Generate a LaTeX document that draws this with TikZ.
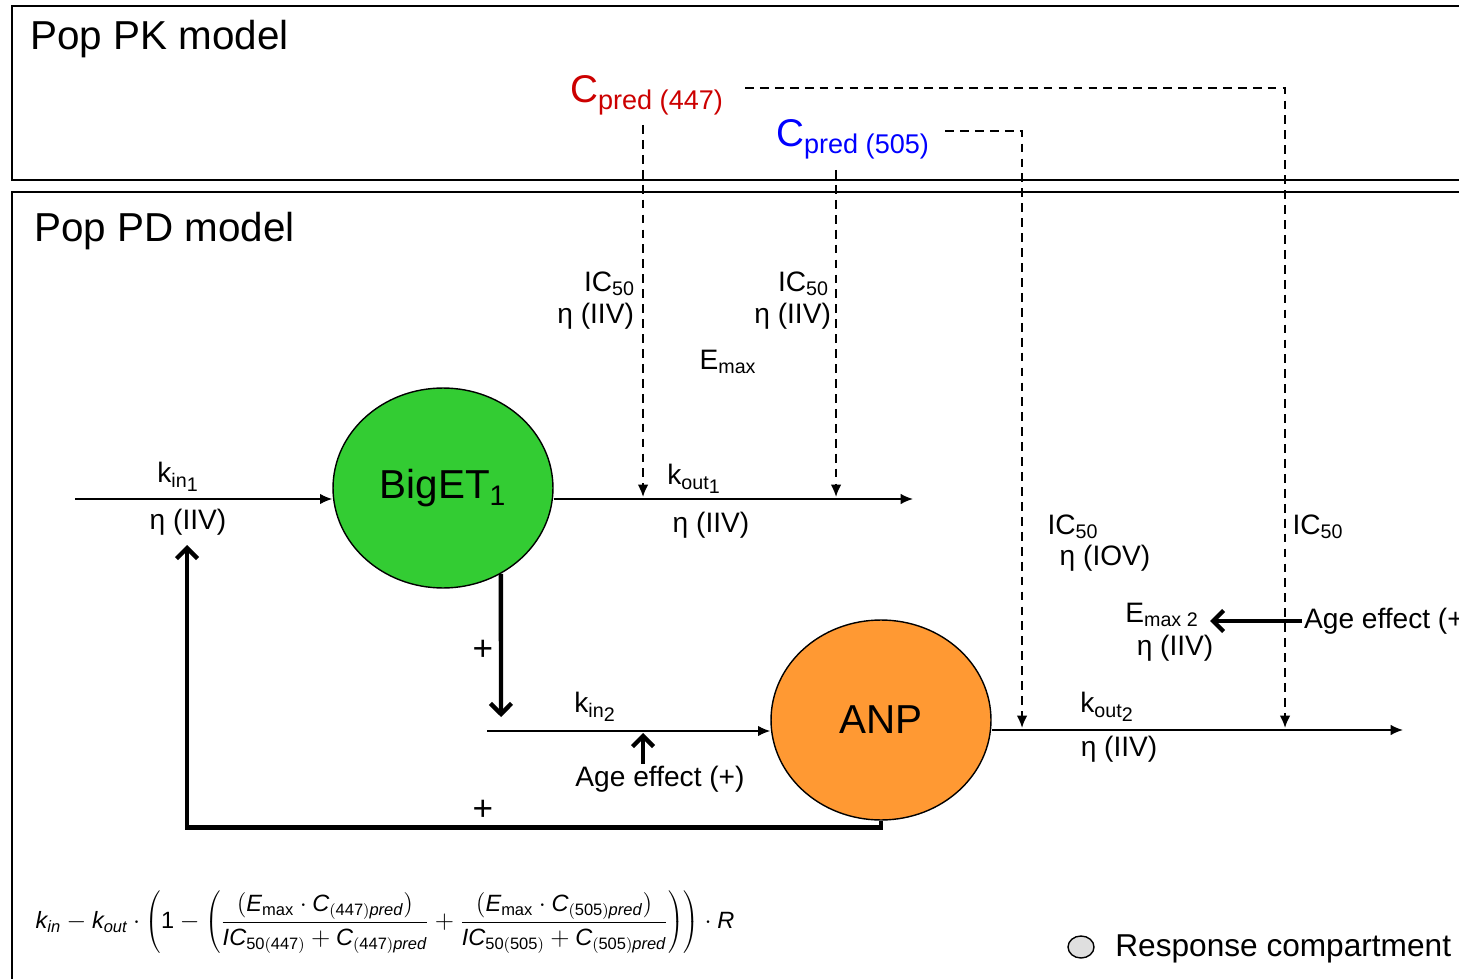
\documentclass[tikz,border=0pt]{standalone}
\usepackage{mathspec}
\setmainfont{Liberation Sans}
\setmathsfont(Digits,Latin)[Scale=1]{Liberation Sans}
\setmathrm{Liberation Sans}
\usetikzlibrary{positioning,shapes.geometric,arrows.meta}
\usepackage{xcolor}
\definecolor{bigetgreen}{RGB}{51,204,51}
\definecolor{anporange}{RGB}{255,153,51}
\definecolor{predred}{RGB}{204,0,0}
\definecolor{predblue}{RGB}{0,0,255}

% rate constant with a two-level index
\newcommand{\rateidx}[3]{#1\textsubscript{#2\raisebox{-0.45ex}{#3}}}

\tikzset{
    lbl/.style={font=\fontsize{16}{18}\selectfont, inner sep=1pt},
    title/.style={font=\fontsize{23}{26}\selectfont, inner sep=0pt, anchor=west},
    comp/.style={ellipse, draw, line width=0.8pt, minimum width=4.4cm, minimum height=4cm,
                 font=\fontsize{23}{26}\selectfont},
    box/.style={line width=0.9pt},
    flow/.style={line width=1pt, -{Latex[length=7pt,width=6pt]}},
    drug/.style={line width=1.1pt, dash pattern=on 5pt off 3.5pt, -{Latex[length=7pt,width=6pt]}},
    effect/.style={line width=2.5pt, -{Straight Barb[length=6pt,width=12pt]}}
}

\begin{document}
\begin{tikzpicture}[x=0.02cm, y=-0.02cm]
    \useasboundingbox (0,0) rectangle (1459,979);

    % PK and PD frames
    \draw[box] (12,6) rectangle (1475,180);
    \draw[box] (12,192) rectangle (1475,995);
    \node[title] (pk) at (30,39) {Pop PK model};
    \node[title] (pd) at (34,231) {Pop PD model};

    % predicted concentrations
    \node[font=\fontsize{22}{24}\selectfont, text=predred, inner sep=1pt] (cpredA) at (647,95)
        {C\textsubscript{pred (447)}};
    \node[font=\fontsize{22}{24}\selectfont, text=predblue, inner sep=1pt] (cpredB) at (853,139)
        {C\textsubscript{pred (505)}};

    % compartments
    \node[comp, fill=bigetgreen] (biget) at (443,488) {BigET\textsubscript{1}};
    \node[comp, fill=anporange] (anp) at (881,720) {ANP};

    % hit points and free ends
    \coordinate (in1)   at (75,499);
    \coordinate (out1)  at (913,499);
    \coordinate (in2)   at (487,731);
    \coordinate (out2)  at (1403,730);
    \coordinate (srcA)  at (643,125);
    \coordinate (srcB)  at (836,170);
    \coordinate (hitA)  at (643,497);
    \coordinate (hitB)  at (836,497);
    \coordinate (hitC)  at (1022,728);
    \coordinate (hitD)  at (1285,728);
    \coordinate (pkA)   at (745,88);
    \coordinate (pkB)   at (945,131);
    \coordinate (bigIn) at (501,717);
    \coordinate (fbEnd) at (187,545);
    \coordinate (ageHit) at (643,733);
    \coordinate (emaxHit) at (1210,621);

    % turnover
    \draw[flow] (in1) -- (in1 -| biget.west);
    \draw[flow] (biget.east |- in1) -- (out1);
    \draw[flow] (in2) -- (in2 -| anp.west);
    \draw[flow] (anp.east |- out2) -- (out2);

    \node[lbl] (kin1) at (178,477) {\rateidx{k}{in}{1}};
    \node[lbl] (eta1) at (188,522) {η (IIV)};
    \node[lbl] (kout1) at (694,479) {\rateidx{k}{out}{1}};
    \node[lbl] (eta2) at (711,525) {η (IIV)};
    \node[lbl] (kin2) at (595,707) {\rateidx{k}{in}{2}};
    \node[lbl] (kout2) at (1107,707) {\rateidx{k}{out}{2}};
    \node[lbl] (eta6) at (1119,749) {η (IIV)};

    % drug effects
    \draw[drug] (srcA) -- (hitA);
    \draw[drug] (srcB) -- (hitB);
    \draw[drug] (pkA) -| (hitD);
    \draw[drug] (pkB) -| (hitC);

    \node[lbl, anchor=east] (ic50A) at (637,284) {IC\textsubscript{50}};
    \node[lbl, anchor=east] (eta3) at (636,316) {η (IIV)};
    \node[lbl, anchor=east] (ic50B) at (831,284) {IC\textsubscript{50}};
    \node[lbl, anchor=east] (eta4) at (833,316) {η (IIV)};
    \node[lbl] (emax) at (728,362) {E\textsubscript{max}};
    \node[lbl] (ic50C) at (1073,527) {IC\textsubscript{50}};
    \node[lbl] (eta5) at (1105,558) {η (IOV)};
    \node[lbl] (ic50D) at (1318,527) {IC\textsubscript{50}};
    \node[lbl] (emax2) at (1162,615) {E\textsubscript{max 2}};
    \node[lbl] (eta7) at (1175,648) {η (IIV)};

    % stimulation and covariates
    \draw[effect] (biget.-56) -- (bigIn);
    \draw[effect] (anp.south) -- ++(0,7) -| (fbEnd);
    \node[font=\fontsize{20}{22}\selectfont] (plusA) at (483,650) {+};
    \node[font=\fontsize{20}{22}\selectfont] (plusB) at (483,810) {+};

    \node[lbl] (ageA) at (660,779) {Age effect (+)};
    \draw[effect] (ageHit |- ageA.north) -- (ageHit);
    \node[lbl, anchor=west] (ageB) at (1302,621) {Age effect (+)};
    \draw[effect] (ageB.west) -- (emaxHit);

    % model equation
    \node[font=\fontsize{13.4}{15}\selectfont] (eqn) at (385,922)
        {$\displaystyle k_{in} - k_{out}\cdot\left(1-\left(\frac{(E_{\mathrm{max}}\cdot C_{(447)pred})}{IC_{50(447)}+C_{(447)pred}}
          +\frac{(E_{\mathrm{max}}\cdot C_{(505)pred})}{IC_{50(505)}+C_{(505)pred}}\right)\right)\cdot R$};

    % legend
    \node[ellipse, draw, fill=gray!25, line width=0.8pt, minimum width=0.52cm, minimum height=0.44cm, inner sep=0pt]
        (legcirc) at (1081,947) {};
    \node[font=\fontsize{18}{20}\selectfont, anchor=west, inner sep=0pt] (legtxt) at (1115,949) {Response compartment};
\end{tikzpicture}
\end{document}
